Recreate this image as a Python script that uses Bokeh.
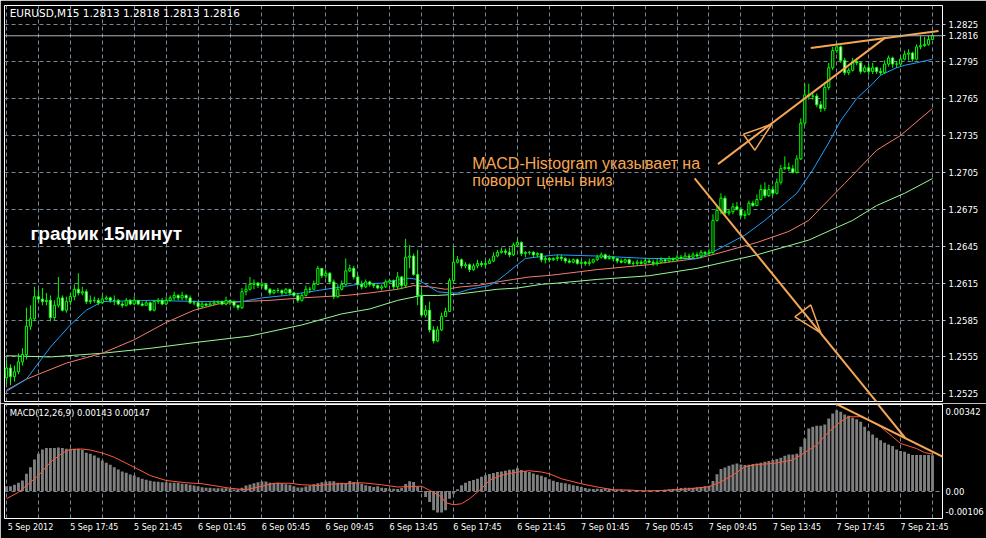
import numpy as np
from bokeh.plotting import figure
from bokeh.layouts import column
from bokeh.models import (ColumnDataSource, Range1d, FixedTicker, PrintfTickFormatter,
                          CustomJSTickFormatter, Label, Span)
from bokeh.embed import file_html
from bokeh.resources import INLINE

# ---------------------------------------------------------------- data
symbol = "EURUSD,M15"
first_open = 1.2538

close = [
    1.2546, 1.2539, 1.2543, 1.2551, 1.2557, 1.2580, 1.2586, 1.2604, 1.2602, 1.2600,
    1.2601, 1.2587, 1.2597, 1.2603, 1.2593, 1.2600, 1.2604, 1.2610, 1.2607, 1.2608,
    1.2600, 1.2601, 1.2601, 1.2599, 1.2602, 1.2603, 1.2601, 1.2601, 1.2598, 1.2597,
    1.2601, 1.2598, 1.2601, 1.2598, 1.2597, 1.2599, 1.2593, 1.2600, 1.2601, 1.2598,
    1.2601, 1.2603, 1.2605, 1.2603, 1.2605, 1.2603, 1.2599, 1.2599, 1.2596, 1.2598,
    1.2597, 1.2598, 1.2599, 1.2600, 1.2598, 1.2601, 1.2600, 1.2597, 1.2595, 1.2608,
    1.2610, 1.2614, 1.2615, 1.2613, 1.2614, 1.2610, 1.2607, 1.2609, 1.2609, 1.2607,
    1.2610, 1.2607, 1.2605, 1.2601, 1.2605, 1.2610, 1.2610, 1.2614, 1.2627, 1.2621,
    1.2623, 1.2616, 1.2604, 1.2610, 1.2614, 1.2625, 1.2627, 1.2620, 1.2614, 1.2612,
    1.2616, 1.2614, 1.2613, 1.2611, 1.2612, 1.2616, 1.2617, 1.2612, 1.2620, 1.2613,
    1.2636, 1.2637, 1.2622, 1.2605, 1.2589, 1.2593, 1.2577, 1.2568, 1.2577, 1.2588,
    1.2592, 1.2617, 1.2632, 1.2634, 1.2629, 1.2630, 1.2626, 1.2629, 1.2631, 1.2630,
    1.2631, 1.2633, 1.2637, 1.2640, 1.2641, 1.2640, 1.2638, 1.2646, 1.2648, 1.2639,
    1.2640, 1.2640, 1.2638, 1.2639, 1.2634, 1.2635, 1.2634, 1.2635, 1.2636, 1.2635,
    1.2633, 1.2632, 1.2634, 1.2631, 1.2632, 1.2631, 1.2632, 1.2634, 1.2636, 1.2638,
    1.2635, 1.2636, 1.2635, 1.2633, 1.2632, 1.2634, 1.2631, 1.2631, 1.2632, 1.2631,
    1.2633, 1.2632, 1.2631, 1.2632, 1.2634, 1.2633, 1.2635, 1.2634, 1.2636, 1.2635,
    1.2637, 1.2636, 1.2638, 1.2637, 1.2640, 1.2639, 1.2640, 1.2666, 1.2674, 1.2684,
    1.2672, 1.2673, 1.2677, 1.2675, 1.2670, 1.2671, 1.2680, 1.2678, 1.2683, 1.2691,
    1.2686, 1.2691, 1.2688, 1.2697, 1.2708, 1.2709, 1.2708, 1.2705, 1.2716, 1.2745,
    1.2768, 1.2767, 1.2767, 1.2760, 1.2757, 1.2774, 1.2790, 1.2804, 1.2807, 1.2796,
    1.2786, 1.2788, 1.2795, 1.2794, 1.2787, 1.2790, 1.2787, 1.2790, 1.2787, 1.2786,
    1.2793, 1.2798, 1.2793, 1.2793, 1.2797, 1.2801, 1.2802, 1.2797, 1.2807, 1.2808,
    1.2809, 1.2813, 1.2816,
]

high = [
    1.2553, 1.2549, 1.2548, 1.2558, 1.2562, 1.2595, 1.2597, 1.2612, 1.2610, 1.2611,
    1.2607, 1.2605, 1.2601, 1.2620, 1.2605, 1.2604, 1.2607, 1.2614, 1.2623, 1.2612,
    1.2610, 1.2605, 1.2604, 1.2603, 1.2605, 1.2605, 1.2604, 1.2605, 1.2602, 1.2600,
    1.2603, 1.2602, 1.2604, 1.2601, 1.2600, 1.2601, 1.2600, 1.2601, 1.2603, 1.2603,
    1.2604, 1.2605, 1.2608, 1.2606, 1.2608, 1.2606, 1.2605, 1.2601, 1.2600, 1.2600,
    1.2599, 1.2600, 1.2601, 1.2601, 1.2601, 1.2604, 1.2601, 1.2601, 1.2597, 1.2611,
    1.2614, 1.2620, 1.2618, 1.2616, 1.2616, 1.2615, 1.2611, 1.2610, 1.2611, 1.2610,
    1.2611, 1.2610, 1.2608, 1.2607, 1.2607, 1.2613, 1.2612, 1.2617, 1.2629, 1.2627,
    1.2626, 1.2624, 1.2618, 1.2614, 1.2617, 1.2635, 1.2630, 1.2629, 1.2622, 1.2617,
    1.2618, 1.2617, 1.2615, 1.2614, 1.2614, 1.2618, 1.2618, 1.2618, 1.2624, 1.2621,
    1.2651, 1.2646, 1.2639, 1.2642, 1.2610, 1.2597, 1.2600, 1.2580, 1.2580, 1.2591,
    1.2595, 1.2619, 1.2644, 1.2637, 1.2635, 1.2632, 1.2631, 1.2631, 1.2634, 1.2633,
    1.2634, 1.2635, 1.2640, 1.2642, 1.2644, 1.2643, 1.2644, 1.2648, 1.2651, 1.2649,
    1.2641, 1.2641, 1.2641, 1.2640, 1.2639, 1.2637, 1.2636, 1.2636, 1.2638, 1.2638,
    1.2636, 1.2635, 1.2635, 1.2635, 1.2634, 1.2633, 1.2635, 1.2635, 1.2638, 1.2640,
    1.2639, 1.2638, 1.2637, 1.2635, 1.2635, 1.2635, 1.2635, 1.2633, 1.2634, 1.2634,
    1.2635, 1.2635, 1.2634, 1.2635, 1.2636, 1.2635, 1.2637, 1.2636, 1.2638, 1.2638,
    1.2640, 1.2639, 1.2640, 1.2640, 1.2642, 1.2641, 1.2643, 1.2671, 1.2678, 1.2688,
    1.2686, 1.2675, 1.2680, 1.2681, 1.2677, 1.2674, 1.2682, 1.2682, 1.2687, 1.2695,
    1.2697, 1.2695, 1.2694, 1.2700, 1.2711, 1.2718, 1.2713, 1.2711, 1.2719, 1.2749,
    1.2777, 1.2777, 1.2770, 1.2769, 1.2763, 1.2778, 1.2794, 1.2807, 1.2808, 1.2808,
    1.2798, 1.2790, 1.2798, 1.2798, 1.2794, 1.2792, 1.2793, 1.2794, 1.2791, 1.2790,
    1.2796, 1.2800, 1.2799, 1.2795, 1.2799, 1.2804, 1.2805, 1.2803, 1.2809, 1.2816,
    1.2815, 1.2816, 1.2818,
]

low = [
    1.2533, 1.2532, 1.2535, 1.2541, 1.2548, 1.2553, 1.2577, 1.2584, 1.2599, 1.2597,
    1.2597, 1.2584, 1.2585, 1.2595, 1.2592, 1.2591, 1.2597, 1.2601, 1.2605, 1.2605,
    1.2598, 1.2598, 1.2599, 1.2597, 1.2598, 1.2601, 1.2599, 1.2597, 1.2597, 1.2595,
    1.2596, 1.2597, 1.2597, 1.2597, 1.2596, 1.2597, 1.2592, 1.2592, 1.2598, 1.2597,
    1.2597, 1.2600, 1.2601, 1.2601, 1.2601, 1.2601, 1.2598, 1.2597, 1.2594, 1.2595,
    1.2596, 1.2597, 1.2597, 1.2598, 1.2597, 1.2597, 1.2597, 1.2595, 1.2593, 1.2594,
    1.2605, 1.2609, 1.2610, 1.2611, 1.2611, 1.2609, 1.2605, 1.2606, 1.2607, 1.2605,
    1.2606, 1.2605, 1.2604, 1.2599, 1.2600, 1.2604, 1.2607, 1.2610, 1.2614, 1.2619,
    1.2619, 1.2614, 1.2602, 1.2603, 1.2609, 1.2613, 1.2624, 1.2618, 1.2613, 1.2610,
    1.2611, 1.2612, 1.2611, 1.2610, 1.2609, 1.2611, 1.2614, 1.2610, 1.2610, 1.2610,
    1.2611, 1.2627, 1.2621, 1.2597, 1.2588, 1.2587, 1.2575, 1.2566, 1.2567, 1.2576,
    1.2588, 1.2592, 1.2615, 1.2631, 1.2627, 1.2627, 1.2624, 1.2625, 1.2627, 1.2628,
    1.2627, 1.2631, 1.2632, 1.2636, 1.2639, 1.2638, 1.2636, 1.2637, 1.2645, 1.2637,
    1.2636, 1.2638, 1.2636, 1.2636, 1.2632, 1.2631, 1.2632, 1.2633, 1.2633, 1.2633,
    1.2631, 1.2631, 1.2631, 1.2630, 1.2630, 1.2629, 1.2629, 1.2631, 1.2633, 1.2635,
    1.2634, 1.2634, 1.2633, 1.2631, 1.2631, 1.2631, 1.2630, 1.2629, 1.2629, 1.2630,
    1.2630, 1.2631, 1.2629, 1.2629, 1.2631, 1.2631, 1.2632, 1.2632, 1.2633, 1.2634,
    1.2634, 1.2635, 1.2635, 1.2635, 1.2635, 1.2637, 1.2637, 1.2638, 1.2665, 1.2671,
    1.2670, 1.2670, 1.2671, 1.2674, 1.2668, 1.2667, 1.2670, 1.2677, 1.2678, 1.2682,
    1.2684, 1.2685, 1.2686, 1.2687, 1.2695, 1.2707, 1.2706, 1.2704, 1.2704, 1.2715,
    1.2743, 1.2764, 1.2764, 1.2758, 1.2754, 1.2755, 1.2772, 1.2788, 1.2802, 1.2794,
    1.2784, 1.2784, 1.2787, 1.2792, 1.2785, 1.2786, 1.2784, 1.2785, 1.2785, 1.2784,
    1.2785, 1.2791, 1.2790, 1.2790, 1.2791, 1.2796, 1.2796, 1.2795, 1.2796, 1.2805,
    1.2807, 1.2808, 1.2813,
]

# MACD(12,26,9) main line, drawn as a histogram
macd_hist = [
    0.00019, 0.00019, 0.00025, 0.00033, 0.00042, 0.00069, 0.00095, 0.00126, 0.00149, 0.00166,
    0.00172, 0.00172, 0.00172, 0.00174, 0.00172, 0.00169, 0.00169, 0.00169, 0.00169, 0.00165,
    0.00153, 0.00149, 0.00142, 0.00133, 0.00122, 0.00113, 0.00105, 0.00095, 0.00086, 0.00078,
    0.00073, 0.00066, 0.00062, 0.00055, 0.00049, 0.00045, 0.00041, 0.00038, 0.00037, 0.00035,
    0.00035, 0.00033, 0.00033, 0.00033, 0.00029, 0.00028, 0.00025, 0.00022, 0.00019, 0.00015,
    0.00013, 0.00013, 0.00011, 0.00011, 0.00011, 0.00011, 0.00009, 0.00006, 0.00007, 0.00013,
    0.00022, 0.00026, 0.00031, 0.00035, 0.00038, 0.00038, 0.00033, 0.00031, 0.00033, 0.00031,
    0.00027, 0.00025, 0.00019, 0.00014, 0.00014, 0.00018, 0.00022, 0.00027, 0.00031, 0.00035,
    0.00038, 0.00039, 0.00039, 0.00033, 0.00033, 0.00032, 0.00040, 0.00036, 0.00033, 0.00029,
    0.00023, 0.00020, 0.00016, 0.00019, 0.00013, 0.00012, 0.00009, 0.00009, 0.00008, 0.00012,
    0.00028, 0.00039, 0.00036, 0.00016, -0.00004, -0.00024, -0.00044, -0.00077, -0.00086, -0.00086,
    -0.00077, -0.00031, -0.00011, 0.00007, 0.00023, 0.00033, 0.00040, 0.00044, 0.00049, 0.00057,
    0.00063, 0.00068, 0.00072, 0.00076, 0.00078, 0.00081, 0.00085, 0.00086, 0.00092, 0.00084,
    0.00080, 0.00076, 0.00070, 0.00065, 0.00061, 0.00055, 0.00047, 0.00041, 0.00036, 0.00033,
    0.00031, 0.00027, 0.00023, 0.00020, 0.00016, 0.00012, 0.00009, 0.00008, 0.00009, 0.00008,
    0.00011, 0.00009, 0.00007, 0.00005, 0.00005, 0.00003, 0.00004, 0.00003, 0.00002, 0.00002,
    0.00002, 0.00003, 0.00003, 0.00004, 0.00004, 0.00005, 0.00007, 0.00008, 0.00009, 0.00012,
    0.00013, 0.00013, 0.00013, 0.00015, 0.00016, 0.00019, 0.00021, 0.00040, 0.00067, 0.00088,
    0.00094, 0.00101, 0.00106, 0.00110, 0.00106, 0.00104, 0.00105, 0.00108, 0.00110, 0.00113,
    0.00117, 0.00120, 0.00124, 0.00128, 0.00133, 0.00141, 0.00146, 0.00146, 0.00149, 0.00177,
    0.00210, 0.00250, 0.00257, 0.00261, 0.00261, 0.00266, 0.00290, 0.00310, 0.00323, 0.00317,
    0.00306, 0.00301, 0.00293, 0.00287, 0.00277, 0.00257, 0.00239, 0.00226, 0.00213, 0.00203,
    0.00193, 0.00186, 0.00180, 0.00166, 0.00160, 0.00157, 0.00149, 0.00144, 0.00144, 0.00144,
    0.00144, 0.00144, 0.00143,
]

# MACD signal line (bar index, value)
signal_x = [0, 3, 5, 8, 11, 14, 16, 19, 21, 24, 27, 32, 36, 40, 45, 49, 53, 56, 60, 64,
            67, 71, 74, 78, 81, 89, 94, 98, 104, 106, 109, 110, 112, 114, 116, 119, 121, 124, 128, 131,
            134, 136, 139, 144, 148, 152, 156, 160, 164, 170, 176, 179, 182, 185, 188, 192, 197, 199, 203, 206,
            209, 211, 214, 216, 219, 222, 224, 228, 230, 232]
signal_y = [-0.00031, -0.00005, 0.00022, 0.00062, 0.00115, 0.00152, 0.00166, 0.00168, 0.00164, 0.00152,
            0.00135, 0.00095, 0.00062, 0.00042, 0.00033, 0.00029, 0.00019, 0.00011, 0.00005, 0.00019,
            0.00031, 0.00031, 0.00025, 0.00022, 0.00027, 0.00033, 0.00025, 0.00016, 0.00019, 0.00003,
            -0.00024, -0.00047, -0.00055, -0.00051, -0.00031, 0.00009, 0.00043, 0.00063, 0.00076, 0.00081,
            0.00076, 0.00069, 0.00049, 0.00029, 0.00016, 0.00005, 0.00004, 0.00000, 0.00002, 0.00007,
            0.00017, 0.00037, 0.00064, 0.00097, 0.00106, 0.00110, 0.00124, 0.00144, 0.00184, 0.00237,
            0.00277, 0.00297, 0.00297, 0.00283, 0.00257, 0.00217, 0.00190, 0.00170, 0.00154, 0.00147]

# moving averages (bar index, price)
ma_fast_x = [0, 5, 11, 16, 20, 24, 36, 48, 59, 64, 70, 76, 82, 88, 94, 97, 101, 103, 106, 108,
             111, 113, 116, 121, 123, 125, 128, 130, 135, 138, 148, 161, 173, 178, 185, 190, 198, 202, 206, 209,
             213, 217, 219, 223, 225, 228, 232]
ma_fast_y = [1.2527, 1.2537, 1.2563, 1.2581, 1.2593, 1.2600, 1.2601, 1.2600, 1.2600, 1.2603,
             1.2605, 1.2608, 1.2611, 1.2614, 1.2615, 1.2617, 1.2619, 1.2618, 1.2612, 1.2608,
             1.2607, 1.2607, 1.2610, 1.2613, 1.2617, 1.2622, 1.2630, 1.2635, 1.2637, 1.2638,
             1.2637, 1.2635, 1.2635, 1.2642, 1.2654, 1.2666, 1.2688, 1.2707, 1.2729, 1.2747,
             1.2765, 1.2777, 1.2784, 1.2790, 1.2792, 1.2794, 1.2797]

ma_mid_x = [0, 5, 15, 24, 32, 40, 47, 53, 59, 66, 74, 85, 91, 98, 102, 106, 110, 114, 118, 123,
            127, 131, 135, 138, 148, 161, 173, 178, 188, 196, 201, 210, 218, 224, 232]
ma_mid_y = [1.2528, 1.2537, 1.2550, 1.2558, 1.2569, 1.2583, 1.2593, 1.2598, 1.2600, 1.2601,
            1.2603, 1.2605, 1.2607, 1.2610, 1.2613, 1.2612, 1.2610, 1.2612, 1.2613, 1.2616,
            1.2618, 1.2620, 1.2621, 1.2622, 1.2626, 1.2630, 1.2635, 1.2639, 1.2648, 1.2657,
            1.2666, 1.2696, 1.2723, 1.2735, 1.2757]

ma_slow_x = [0, 11, 24, 36, 48, 61, 74, 84, 91, 98, 104, 108, 113, 118, 123, 128, 134, 138, 148, 161,
             173, 188, 201, 212, 218, 225, 232]
ma_slow_y = [1.2556, 1.2555, 1.2558, 1.2562, 1.2567, 1.2572, 1.2581, 1.2590, 1.2594, 1.2601,
             1.2605, 1.2605, 1.2606, 1.2608, 1.2610, 1.2611, 1.2614, 1.2615, 1.2618, 1.2621,
             1.2627, 1.2638, 1.2650, 1.2666, 1.2678, 1.2688, 1.2700]

# hand-drawn trend lines and arrows (bar index, price / MACD value)
trend_rise = ([178.25, 220.25], [1.27117, 1.28147])
trend_top = ([201.5, 233.5], [1.28060, 1.28198])
trend_fall = ([172.4, 225.25], [1.27001, 1.24895])
arrow_rise = ([184.6, 191.7, 187.5, 184.6], [1.27360, 1.27441, 1.27230, 1.27360])
arrow_fall = ([197.5, 201.5, 204.0, 197.5], [1.25876, 1.25973, 1.25746, 1.25876])
macd_fall = ([217.75, 225.25], [0.00358, 0.00210])
macd_trend = ([205.6, 236.5], [0.00366, 0.00122])

price_ticks = [1.2525, 1.2555, 1.2585, 1.2615, 1.2645, 1.2675, 1.2705, 1.2735, 1.2765, 1.2795, 1.2825]
time_ticks = list(range(0, 233, 8))
time_labels = {
    0: "5 Sep 2012", 16: "5 Sep 17:45", 32: "5 Sep 21:45", 48: "6 Sep 01:45",
    64: "6 Sep 05:45", 80: "6 Sep 09:45", 96: "6 Sep 13:45", 112: "6 Sep 17:45",
    128: "6 Sep 21:45", 144: "7 Sep 01:45", 160: "7 Sep 05:45", 176: "7 Sep 09:45",
    192: "7 Sep 13:45", 208: "7 Sep 17:45", 224: "7 Sep 21:45",
}
macd_max_label = "0.00342"
macd_min_label = "-0.00106"

chart_caption = "график 15минут"
note_line1 = "MACD-Histogram указывает на"
note_line2 = "поворот цены вниз"

# ---------------------------------------------------------------- styling
BG = "black"
GRID = "#778899"
CANDLE = "#00ff00"
ORANGE = "#f5a654"
AXIS_FONT = "DejaVu Sans"
AXIS_SIZE = "8.5px"
TIME_SIZE = "8px"
# time labels start at their bar, so each label is centred half its width to the right
LABEL_SHIFT = 6

n = len(close)
x = np.arange(n)
opens = [first_open] + close[:-1]
body_top = np.maximum(opens, close)
body_bot = np.minimum(opens, close)
fills = ["black" if c > o else "white" for o, c in zip(opens, close)]

src = ColumnDataSource(dict(x=x, high=high, low=low, top=body_top, bottom=body_bot, fill=fills))

x_range = Range1d(-0.5, 234.5)

# ---------------------------------------------------------------- price panel
p = figure(width=986, height=403, x_range=x_range, y_range=Range1d(1.25188, 1.28406),
           output_backend="svg", toolbar_location=None, background_fill_color=BG,
           border_fill_color=BG, outline_line_color="white", outline_line_width=1,
           min_border_left=4, min_border_right=42, min_border_top=5, min_border_bottom=2,
           x_axis_location=None, y_axis_location="right")

# price scale, plus the current bid price
p.yaxis.ticker = FixedTicker(ticks=price_ticks + [close[-1]])
p.yaxis.formatter = PrintfTickFormatter(format="%.4f")
p.yaxis.major_label_text_color = "white"
p.yaxis.major_label_text_font = AXIS_FONT
p.yaxis.major_label_text_font_size = AXIS_SIZE
p.yaxis.axis_line_color = None
p.yaxis.major_tick_line_color = "#c0c0c0"
p.yaxis.major_tick_out = 3
p.yaxis.major_tick_in = 0
p.yaxis.minor_tick_line_color = None
p.yaxis.major_label_standoff = 3

p.xgrid.ticker = FixedTicker(ticks=time_ticks)
p.ygrid.ticker = FixedTicker(ticks=price_ticks)
for g in (p.xgrid, p.ygrid):
    g.grid_line_color = GRID
    g.grid_line_dash = "4 3"
    g.grid_line_width = 1

# bid line
p.add_layout(Span(location=close[-1], dimension="width", line_color="#a9b4bf", line_width=1))

# moving averages
p.line(ma_slow_x, ma_slow_y, line_color="#98f898", line_width=1)
p.line(ma_mid_x, ma_mid_y, line_color="#f47c6c", line_width=1)
p.line(ma_fast_x, ma_fast_y, line_color="#1e9eff", line_width=1)

# candles
p.segment(x0="x", y0="low", x1="x", y1="high", source=src, line_color=CANDLE, line_width=1)
p.vbar(x="x", width=0.55, top="top", bottom="bottom", source=src,
       fill_color="fill", line_color=CANDLE, line_width=1)

# trend lines and arrows
for xs, ys in (trend_rise, trend_top, trend_fall):
    p.line(xs, ys, line_color=ORANGE, line_width=2)
for xs, ys in (arrow_rise, arrow_fall):
    p.line(xs, ys, line_color=ORANGE, line_width=1.5)

# texts
p.add_layout(Label(x=0.8, y=1.28390,
                   text=f"{symbol}  {opens[-1]:.4f} {high[-1]:.4f} {low[-1]:.4f} {close[-1]:.4f}",
                   text_color="white", text_font=AXIS_FONT, text_font_size="10.5px",
                   text_baseline="top", text_align="left"))
p.add_layout(Label(x=6.0, y=1.26555, text=chart_caption, text_color="white",
                   text_font="Liberation Sans", text_font_size="19px", text_font_style="bold",
                   text_baseline="alphabetic", text_align="left"))
p.add_layout(Label(x=116.7, y=1.27125, text=note_line1, text_color=ORANGE,
                   text_font="Liberation Sans", text_font_size="16px",
                   text_baseline="alphabetic", text_align="left"))
p.add_layout(Label(x=116.7, y=1.26982, text=note_line2, text_color=ORANGE,
                   text_font="Liberation Sans", text_font_size="16px",
                   text_baseline="alphabetic", text_align="left"))

# ---------------------------------------------------------------- MACD panel
m = figure(width=986, height=135, x_range=x_range, y_range=Range1d(-0.00110, 0.00346),
           output_backend="svg", toolbar_location=None, background_fill_color=BG,
           border_fill_color=BG, outline_line_color="white", outline_line_width=1,
           min_border_left=4, min_border_right=42, min_border_top=1, min_border_bottom=20,
           y_axis_location="right")

label_ticks = [t + LABEL_SHIFT for t in time_labels]
m.xaxis.ticker = FixedTicker(ticks=label_ticks)
m.xaxis.major_label_overrides = {t + LABEL_SHIFT: s for t, s in time_labels.items()}
m.xaxis.major_label_text_color = "white"
m.xaxis.major_label_text_font = AXIS_FONT
m.xaxis.major_label_text_font_size = TIME_SIZE
m.xaxis.major_label_standoff = 4
m.xaxis.major_tick_out = 0
m.xaxis.major_tick_in = 0
m.xaxis.minor_tick_line_color = None
m.xaxis.axis_line_color = None

m.yaxis.ticker = FixedTicker(ticks=[0.0032, 0.0, -0.0008])
m.yaxis.formatter = CustomJSTickFormatter(
    args=dict(top=macd_max_label, bottom=macd_min_label),
    code="return tick > 0.001 ? top : (tick < 0 ? bottom : '0.00');")
m.yaxis.major_label_text_color = "white"
m.yaxis.major_label_text_font = AXIS_FONT
m.yaxis.major_label_text_font_size = AXIS_SIZE
m.yaxis.axis_line_color = None
m.yaxis.major_tick_out = 0
m.yaxis.major_tick_in = 0
m.yaxis.minor_tick_line_color = None
m.yaxis.major_label_standoff = 3

m.xgrid.ticker = FixedTicker(ticks=time_ticks)
m.ygrid.ticker = FixedTicker(ticks=[0.0])
for g in (m.xgrid, m.ygrid):
    g.grid_line_color = GRID
    g.grid_line_dash = "4 3"
    g.grid_line_width = 1

m.vbar(x=x, width=0.72, top=macd_hist, bottom=0, fill_color="#7f7f7f", line_color=None)
m.line(signal_x, signal_y, line_color="#ff5a38", line_width=1)

for xs, ys in (macd_fall, macd_trend):
    m.line(xs, ys, line_color=ORANGE, line_width=2)

m.add_layout(Label(x=0.8, y=0.00334, text=f"MACD(12,26,9) {macd_hist[-1]:.5f} {signal_y[-1]:.5f}",
                   text_color="white", text_font=AXIS_FONT, text_font_size=AXIS_SIZE,
                   text_baseline="top", text_align="left"))

layout = column(p, m, spacing=0)
open("out.html", "w").write(file_html(layout, INLINE))
